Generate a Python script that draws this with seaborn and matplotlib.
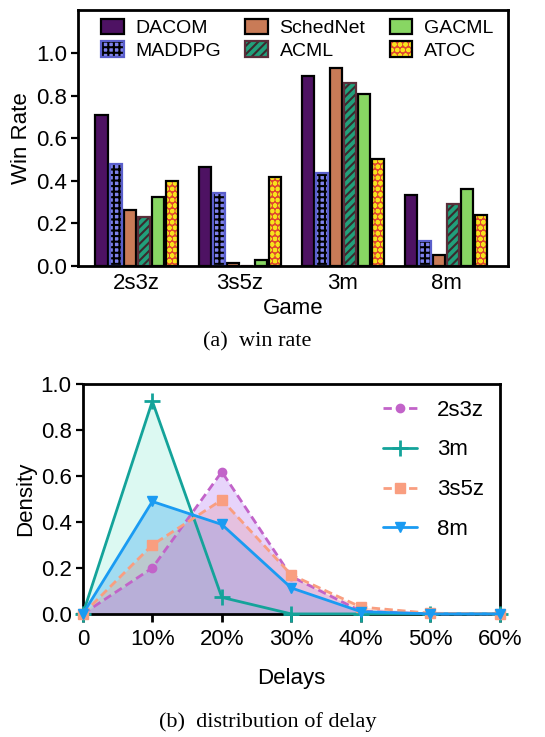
import numpy as np
import pandas as pd
import seaborn as sns
import matplotlib
matplotlib.use("Agg")
from matplotlib import pyplot as plt
from matplotlib.patches import Rectangle
from matplotlib.legend_handler import HandlerTuple
from matplotlib.ticker import FuncFormatter

# ---- (a) win rate data ----
games = ["2s3z", "3s5z", "3m", "8m"]
methods = ["DACOM", "MADDPG", "SchedNet", "ACML", "GACML", "ATOC"]
dacom = [0.71, 0.465, 0.89, 0.335]
maddpg = [0.48, 0.343, 0.437, 0.117]
schednet = [0.265, 0.014, 0.93, 0.05]
acml = [0.23, 0.0, 0.86, 0.29]
gacml = [0.325, 0.03, 0.805, 0.36]
atoc = [0.40, 0.42, 0.50, 0.24]

# ---- (b) delay distribution data ----
delays = [0, 10, 20, 30, 40, 50, 60]
dens_2s3z = [0.0, 0.20, 0.618, 0.163, 0.012, 0.0, 0.0]
dens_3m = [0.0, 0.925, 0.072, 0.0, 0.0, 0.0, 0.0]
dens_3s5z = [0.0, 0.30, 0.496, 0.17, 0.03, 0.003, 0.0]
dens_8m = [0.0, 0.489, 0.389, 0.113, 0.01, 0.0, 0.0]

sns.set_theme(style="ticks")
plt.rcParams["font.family"] = ["Liberation Sans", "DejaVu Sans"]
plt.rcParams["hatch.linewidth"] = 1.5
plt.rcParams["axes.linewidth"] = 2.0
for key in ["text.color", "axes.labelcolor", "xtick.color", "ytick.color",
            "axes.edgecolor"]:
    plt.rcParams[key] = "black"

FS = 16  # tick / label size

fig = plt.figure(figsize=(5.45, 7.37), dpi=100)
ax1 = fig.add_axes([0.143, 0.639, 0.789, 0.347])
ax2 = fig.add_axes([0.152, 0.167, 0.765, 0.312])

# bars
win = pd.DataFrame({
    "game": games * len(methods),
    "method": np.repeat(methods, len(games)),
    "rate": dacom + maddpg + schednet + acml + gacml + atoc,
})
face = {"DACOM": "#4E1263", "MADDPG": "#7E82EC", "SchedNet": "#C97B57",
        "ACML": "#21A07B", "GACML": "#88D663", "ATOC": "#E0482F"}
hatch = {"MADDPG": ("+++", "#000000"), "ACML": ("////", "#3A2A2E"),
         "ATOC": ("ooo", "#F8E21C")}
outline = {"MADDPG": "#5A5FCB", "ACML": "#5A2E3A"}

sns.barplot(data=win, x="game", y="rate", hue="method", order=games,
            hue_order=methods, palette=face, width=0.82, gap=0.14,
            edgecolor="black", linewidth=1.6, saturation=1, ax=ax1,
            legend=False)

handles = []
for name, cont in zip(methods, ax1.containers):
    first = None
    for bar in cont:
        if name in hatch:
            h, hc = hatch[name]
            bar.set_hatch(h)
            bar.set_edgecolor(hc)
            bar.set_linewidth(0)
            r = Rectangle(bar.get_xy(), bar.get_width(), bar.get_height(),
                          fill=False, edgecolor=outline.get(name, "black"),
                          linewidth=1.6, zorder=bar.get_zorder() + 0.1)
            ax1.add_patch(r)
            if first is None:
                first = (bar, r)
        elif first is None:
            first = bar
    handles.append(first)

ax1.legend(handles, methods, loc="upper center", bbox_to_anchor=(0.51, 1.02),
           ncol=3, frameon=False, fontsize=14, handlelength=1.15,
           handleheight=0.85, columnspacing=1.25, labelspacing=0.2,
           borderaxespad=0.3, handletextpad=0.6,
           handler_map={tuple: HandlerTuple(ndivide=1)})

ax1.set_ylim(0, 1.2)
ax1.set_xlim(-0.57, 3.6)
ax1.set_yticks([0, 0.2, 0.4, 0.6, 0.8, 1.0])
ax1.yaxis.set_major_formatter(FuncFormatter(lambda v, p: f"{v:.1f}"))
ax1.tick_params(axis="x", length=0, labelsize=FS, pad=5)
ax1.tick_params(axis="y", length=5, width=1.6, labelsize=FS, pad=3)
ax1.set_xlabel("Game", fontsize=FS, labelpad=3)
ax1.set_ylabel("Win Rate", fontsize=FS, labelpad=3)

# lines
dist = pd.DataFrame({
    "delay": delays * 4,
    "density": dens_2s3z + dens_3m + dens_3s5z + dens_8m,
    "game": np.repeat(["2s3z", "3m", "3s5z", "8m"], len(delays)),
})
order = ["2s3z", "3m", "3s5z", "8m"]
line_col = {"2s3z": "#C263C9", "3m": "#14A39A", "3s5z": "#F99E80", "8m": "#1A9BF2"}
fill_col = {"2s3z": "#B273F2", "3m": "#8CEED4", "3s5z": "#F7A080", "8m": "#1F99F0"}
marks = {"2s3z": "o", "3m": "P", "3s5z": "s", "8m": "v"}
dash = {"2s3z": (3, 1.6), "3m": "", "3s5z": (3, 1.6), "8m": ""}

# fills drawn back to front
for name, vals in [("3m", dens_3m), ("8m", dens_8m),
                   ("3s5z", dens_3s5z), ("2s3z", dens_2s3z)]:
    ax2.fill_between(delays, vals, color=fill_col[name], alpha=0.3,
                     linewidth=0, zorder=1)

sns.lineplot(data=dist, x="delay", y="density", hue="game", style="game",
             hue_order=order, style_order=order, palette=line_col,
             markers=marks, dashes=dash, linewidth=2, markersize=7, ax=ax2)

size = {"o": 6, "+": 11, "s": 7.5, "v": 7.5}


def restyle(ln):
    if ln.get_marker() == "P":
        ln.set_marker("+")
    ln.set_markeredgecolor(ln.get_color())
    ln.set_markeredgewidth(2 if ln.get_marker() == "+" else 1)
    if ln.get_marker() in size:
        ln.set_markersize(size[ln.get_marker()])


for ln in ax2.get_lines():
    ln.set_clip_on(False)
    ln.set_zorder(3)
    restyle(ln)

sns.move_legend(ax2, "upper right", frameon=False, title=None, fontsize=FS,
                labelspacing=0.85, handlelength=1.55, borderaxespad=0.3,
                handletextpad=0.9, bbox_to_anchor=(1.0, 1.0))
for lh in ax2.get_legend().legend_handles:
    restyle(lh)

ax2.set_xlim(0, 60)
ax2.set_ylim(0, 1.0)
ax2.set_xticks(delays)
ax2.xaxis.set_major_formatter(FuncFormatter(lambda v, p: "0" if v == 0 else f"{v:.0f}%"))
ax2.set_yticks([0, 0.2, 0.4, 0.6, 0.8, 1.0])
ax2.yaxis.set_major_formatter(FuncFormatter(lambda v, p: f"{v:.1f}"))
ax2.tick_params(axis="x", length=6, width=2, labelsize=FS, pad=5)
ax2.tick_params(axis="y", length=5, width=1.6, labelsize=FS, pad=3)
ax2.set_xlabel("Delays", fontsize=FS, labelpad=13)
ax2.set_ylabel("Density", fontsize=FS, labelpad=3)

for ax in (ax1, ax2):
    for s in ax.spines.values():
        s.set_linewidth(2)
        s.set_visible(True)

fig.text(0.472, 1 - 342 / 737, "(a)  win rate", ha="center", va="center",
         fontsize=16, family=["Liberation Serif", "DejaVu Serif"])
fig.text(0.491, 1 - 722 / 737, "(b)  distribution of delay", ha="center",
         va="center", fontsize=16, family=["Liberation Serif", "DejaVu Serif"])

fig.savefig("out.png", dpi=100)
